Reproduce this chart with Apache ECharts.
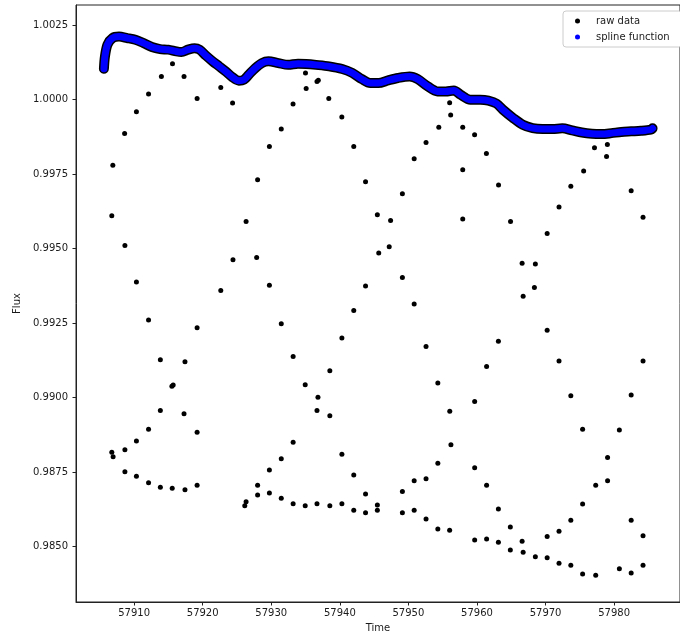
<!DOCTYPE html>
<html>
<head>
<meta charset="utf-8">
<title>Flux vs Time</title>
<script src="https://cdn.jsdelivr.net/npm/echarts@6/dist/echarts.min.js"></script>
<style>
  html, body { margin: 0; padding: 0; background: #fff; }
  #chart { width: 680px; height: 641px; }
</style>
</head>
<body>
<div id="chart"></div>
<script>
// Dense run of observations; the fitted spline follows it closely.
const bandTime = [57905.60, 57905.75, 57906.12, 57906.84, 57907.80, 57908.99, 57910.20, 57911.39, 57912.59, 57913.79,
  57914.98, 57916.18, 57916.89, 57917.86, 57918.82, 57919.54, 57920.48, 57921.45, 57922.41, 57923.36,
  57924.32, 57925.28, 57926.00, 57926.72, 57927.66, 57928.63, 57929.59, 57931.03, 57932.46, 57933.90,
  57935.09, 57936.53, 57938.44, 57940.36, 57941.80, 57943.23, 57944.43, 57945.62, 57947.05, 57948.49,
  57950.17, 57951.36, 57952.80, 57954.23, 57955.44, 57956.63, 57957.59, 57959.03, 57960.47, 57961.66,
  57962.85, 57963.81, 57965.25, 57966.68, 57968.12, 57969.56, 57970.99, 57972.43, 57973.87, 57975.30,
  57976.74, 57978.18, 57979.61, 57981.05, 57982.49, 57983.92, 57985.36, 57985.60];
const bandFlux = [1.00103, 1.00144, 1.00184, 1.00206, 1.00211, 1.00206, 1.00200, 1.00189, 1.00176, 1.00169,
  1.00167, 1.00161, 1.00159, 1.00167, 1.00172, 1.00167, 1.00147, 1.00128, 1.00111, 1.00094,
  1.00075, 1.00063, 1.00066, 1.00083, 1.00105, 1.00122, 1.00128, 1.00122, 1.00116, 1.00120,
  1.00119, 1.00116, 1.00111, 1.00102, 1.00089, 1.00068, 1.00055, 1.00055, 1.00064, 1.00072,
  1.00077, 1.00068, 1.00044, 1.00027, 1.00027, 1.00030, 1.00016, 0.99999, 0.99999, 0.99996,
  0.99986, 0.99965, 0.99938, 0.99915, 0.99904, 0.99901, 0.99901, 0.99903, 0.99896, 0.99889,
  0.99885, 0.99884, 0.99887, 0.99891, 0.99893, 0.99895, 0.99899, 0.99903];

// Scattered low points (pointing drifts).
const outlierTime = [
  57906.75, 57906.90, 57908.62, 57910.34, 57912.11, 57913.98, 57915.60, 57917.28, 57919.19, 57922.64,
  57924.36, 57928.01, 57929.73, 57931.46, 57933.18, 57934.99, 57935.09, 57936.67, 57936.86, 57938.39,
  57940.29, 57942.03, 57943.75, 57945.47, 57947.40, 57949.12, 57950.84, 57952.57, 57954.43, 57956.01,
  57956.16, 57957.92, 57959.65, 57961.37, 57957.92, 57963.14, 57964.89, 57957.92, 57971.96, 57973.68,
  57975.55, 57977.13, 57979.01, 57978.89, 57982.48, 57984.21,
  57908.66, 57910.34, 57912.11, 57913.83, 57915.70, 57915.51, 57913.83, 57917.28, 57917.42, 57919.19,
  57922.64, 57924.42, 57926.33, 57927.87, 57929.73, 57931.46, 57933.19, 57945.67, 57947.20, 57949.12,
  57943.75, 57950.84, 57942.03, 57940.30, 57952.57, 57938.54, 57934.95, 57954.29, 57936.81, 57936.67,
  57938.54, 57956.03, 57959.66, 57961.40, 57963.12, 57970.23, 57966.58, 57968.51, 57968.37, 57966.73,
  57970.23, 57971.96, 57984.21, 57973.68, 57982.48,
  57912.11, 57919.19, 57910.34, 57908.66, 57906.75, 57906.94, 57908.66, 57910.34, 57912.11, 57913.83,
  57915.56, 57917.42, 57919.19, 57926.14, 57926.33, 57928.01, 57928.01, 57929.73, 57929.73, 57931.46,
  57931.46, 57933.19, 57933.19, 57934.95, 57936.67, 57938.54, 57940.30, 57940.30, 57942.03, 57942.03,
  57943.75, 57943.75, 57945.47, 57945.47, 57949.12, 57949.12, 57950.84, 57950.84, 57952.57, 57952.57,
  57954.29, 57954.29, 57956.20, 57956.01, 57959.66, 57959.66, 57961.40, 57961.40, 57963.12, 57963.12,
  57964.86, 57964.86, 57966.58, 57966.73, 57968.51, 57970.23, 57970.23, 57971.96, 57971.96, 57973.68,
  57973.68, 57975.40, 57975.40, 57975.40, 57977.31, 57977.31, 57979.04, 57979.04, 57980.76, 57980.76,
  57982.48, 57982.48, 57984.21, 57984.21];
const outlierFlux = [
  0.99610, 0.99779, 0.99886, 0.99959, 1.00018, 1.00077, 1.00120, 1.00077, 1.00003, 1.00040,
  0.99988, 0.99731, 0.99842, 0.99901, 0.99985, 1.00089, 1.00037, 1.00060, 1.00064, 1.00003,
  0.99941, 0.99842, 0.99724, 0.99613, 0.99594, 0.99684, 0.99801, 0.99856, 0.99907, 0.99989,
  0.99948, 0.99907, 0.99882, 0.99819, 0.99764, 0.99713, 0.99591, 0.99599, 0.99639, 0.99709,
  0.99760, 0.99838, 0.99849, 0.99809, 0.99694, 0.99605,
  0.99510, 0.99388, 0.99260, 0.99127, 0.99042, 0.99038, 0.98957, 0.98946, 0.99120, 0.99234,
  0.99359, 0.99462, 0.99591, 0.99470, 0.99377, 0.99248, 0.99138, 0.99485, 0.99506, 0.99403,
  0.99374, 0.99314, 0.99292, 0.99200, 0.99171, 0.99090, 0.99043, 0.99049, 0.99001, 0.98957,
  0.98939, 0.98954, 0.98987, 0.99104, 0.99189, 0.99550, 0.99451, 0.99448, 0.99369, 0.99340,
  0.99226, 0.99123, 0.99123, 0.99006, 0.99009,
  0.98894, 0.98884, 0.98854, 0.98825, 0.98817, 0.98802, 0.98751, 0.98736, 0.98714, 0.98699,
  0.98696, 0.98691, 0.98706, 0.98637, 0.98651, 0.98706, 0.98673, 0.98757, 0.98680, 0.98795,
  0.98662, 0.98850, 0.98644, 0.98637, 0.98644, 0.98637, 0.98810, 0.98644, 0.98740, 0.98622,
  0.98677, 0.98614, 0.98640, 0.98622, 0.98685, 0.98614, 0.98721, 0.98622, 0.98728, 0.98593,
  0.98780, 0.98559, 0.98842, 0.98555, 0.98765, 0.98522, 0.98706, 0.98526, 0.98626, 0.98515,
  0.98566, 0.98489, 0.98518, 0.98481, 0.98466, 0.98534, 0.98463, 0.98552, 0.98444, 0.98589,
  0.98438, 0.98894, 0.98643, 0.98408, 0.98706, 0.98404, 0.98799, 0.98721, 0.98891, 0.98426,
  0.98589, 0.98412, 0.98537, 0.98438];

// Tick positions
const timeTicks = [57910, 57920, 57930, 57940, 57950, 57960, 57970, 57980];
const fluxTicks = [0.985, 0.9875, 0.99, 0.9925, 0.995, 0.9975, 1.0, 1.0025];

const zip = (xs, ys) => xs.map((x, i) => [x, ys[i]]);
const FONT = 'DejaVu Sans';
const INK = '#1a1a1a';

const chart = echarts.init(document.getElementById('chart'), null, { renderer: 'canvas' });
chart.setOption({
  animation: false,
  backgroundColor: '#fff',
  textStyle: { fontFamily: FONT },
  grid: {
    left: 76, top: 5, width: 613, bottom: 39,
    show: true, borderColor: '#222', borderWidth: 1, backgroundColor: 'transparent'
  },
  legend: {
    orient: 'vertical',
    left: 563, top: 11,
    data: ['raw data', 'spline function'],
    icon: 'circle',
    itemWidth: 5, itemHeight: 5,
    itemGap: 4,
    padding: [4, 12, 4, 12],
    backgroundColor: '#fff',
    borderColor: '#cccccc', borderWidth: 1, borderRadius: 3,
    textStyle: { fontFamily: FONT, fontSize: 10, color: INK, lineHeight: 12, padding: [0, 0, 0, 11] }
  },
  xAxis: {
    type: 'value',
    min: 57901.53, max: 57989.6,
    name: 'Time', nameLocation: 'middle', nameGap: 21,
    nameTextStyle: { fontFamily: FONT, fontSize: 10, color: INK },
    axisLine: { show: true, lineStyle: { color: '#222', width: 1 } },
    axisTick: { show: true, length: 3.5, lineStyle: { color: '#222' }, customValues: timeTicks },
    axisLabel: { fontFamily: FONT, fontSize: 10, color: INK, margin: 6, customValues: timeTicks,
      formatter: v => String(Math.round(v)) },
    splitLine: { show: false }
  },
  yAxis: {
    type: 'value',
    min: 0.983144, max: 1.003168,
    name: 'Flux', nameLocation: 'middle', nameGap: 52, nameRotate: 90,
    nameTextStyle: { fontFamily: FONT, fontSize: 10, color: INK },
    axisLine: { show: true, lineStyle: { color: '#222', width: 1 } },
    axisTick: { show: true, length: 3.5, lineStyle: { color: '#222' }, customValues: fluxTicks },
    axisLabel: { fontFamily: FONT, fontSize: 10, color: INK, margin: 8, customValues: fluxTicks,
      formatter: v => v.toFixed(4) },
    splitLine: { show: false }
  },
  series: [
    {
      name: 'raw data',
      type: 'line',
      data: zip(bandTime, bandFlux),
      smooth: 0.3,
      showSymbol: false,
      itemStyle: { color: '#000' },
      lineStyle: { color: '#000', width: 10, cap: 'round', join: 'round' },
      z: 2
    },
    {
      name: 'raw data',
      type: 'scatter',
      data: zip(outlierTime, outlierFlux),
      symbol: 'circle',
      symbolSize: 5,
      itemStyle: { color: '#000', opacity: 1 },
      z: 2
    },
    {
      name: 'spline function',
      type: 'line',
      data: zip(bandTime, bandFlux),
      smooth: 0.3,
      showSymbol: false,
      itemStyle: { color: '#0000ff' },
      lineStyle: { color: '#0000ff', width: 7, cap: 'round', join: 'round' },
      z: 3
    }
  ]
});
</script>
</body>
</html>
